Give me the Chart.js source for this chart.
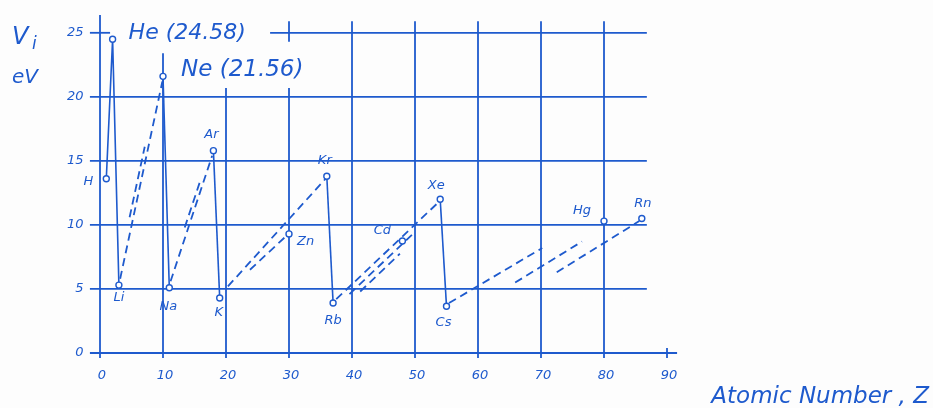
<!DOCTYPE html>
<html>
<head>
<meta charset="utf-8">
<script src="https://cdn.jsdelivr.net/npm/chart.js@4/dist/chart.umd.min.js"></script>
<style>
html,body{margin:0;padding:0;background:#fdfdfd;}
#wrap{width:933px;height:408px;}
</style>
</head>
<body>
<div id="wrap"><canvas id="c" width="933" height="408"></canvas></div>
<script>
// ---- data ----
const elements = ['H','He','Li','Ne','Na','Ar','K','Zn','Kr','Rb','Cd','Xe','Cs','Hg','Rn'];
const atomicNumbers = [1,2,3,10,11,18,19,30,36,37,48,54,55,80,86];
const ionizationEV = [13.6,24.5,5.3,21.6,5.1,15.8,4.3,9.3,13.8,3.9,8.75,12.0,3.65,10.3,10.5];
// solid connections: groups of element symbols joined by a solid line
const solidGroups = [['H','He','Li'],['Ne','Na'],['Ar','K'],['Kr','Rb'],['Xe','Cs']];
// dashed trend segments (Z, eV)
const dashStartZ = [3.2, 4.7, 11.2, 13.45, 20.3, 23.8, 37.5, 39.6, 41.3, 55.4, 65.9, 72.5];
const dashStartV = [5.8, 10.6, 5.6, 9.8, 5.2, 6.5, 4.2, 4.6, 4.8, 3.9, 5.5, 6.3];
const dashEndZ   = [9.9, 7.1, 17.8, 15.95, 35.8, 29.7, 53.8, 50.0, 47.6, 70.2, 76.5, 85.6];
const dashEndV   = [21.2, 16.1, 15.4, 13.5, 13.6, 9.2, 11.8, 9.45, 7.75, 8.2, 8.7, 10.3];
// annotations
const annotationTexts = ['He (24.58)', 'Ne (21.56)'];
// tick labels
const xTickValues = [0,10,20,30,40,50,60,70,80,90];
const yTickValues = [0,5,10,15,20,25];
const yAxisTitle = ['V', 'i', 'eV'];
const xAxisTitle = 'Atomic Number , Z';

// ---- style ----
const BLUE = 'rgb(30,90,205)';
const FONT = '"DejaVu Sans", sans-serif';
const labelOffsets = { // pixel offsets from the point
  H:[-18,3], He:[0,0], Li:[0,13], Ne:[0,0], Na:[-1,19], Ar:[-2,-16], K:[-1,15],
  Zn:[8,8], Kr:[-2,-16], Rb:[0,18], Cd:[-20,-10], Xe:[-4,-14], Cs:[-3,16], Hg:[-22,-10], Rn:[1,-15]
};
const labelAlign = {Zn:'left'};

const idx = s => elements.indexOf(s);
const datasets = [];
solidGroups.forEach(g => {
  datasets.push({
    data: g.map(s => ({x: atomicNumbers[idx(s)], y: ionizationEV[idx(s)]})),
    showLine: true, borderColor: BLUE, borderWidth: 1.6, pointRadius: 0, fill: false, order: 2
  });
});
dashStartZ.forEach((z, i) => {
  datasets.push({
    data: [{x: z, y: dashStartV[i]}, {x: dashEndZ[i], y: dashEndV[i]}],
    showLine: true, borderColor: BLUE, borderWidth: 1.8, borderDash: [8,5], pointRadius: 0, fill: false, order: 3
  });
});
datasets.push({
  data: atomicNumbers.map((z, i) => ({x: z, y: ionizationEV[i]})),
  showLine: false, pointRadius: 3, pointBackgroundColor: '#ffffff', pointBorderColor: BLUE,
  pointBorderWidth: 1.4, order: 1
});

const gridPlugin = {
  id: 'grid',
  beforeDatasetsDraw(chart) {
    const ctx = chart.ctx, xs = chart.scales.x, ys = chart.scales.y;
    const X = v => xs.getPixelForValue(v), Y = v => ys.getPixelForValue(v);
    ctx.save();
    ctx.strokeStyle = BLUE; ctx.lineWidth = 1.8;
    const seg = (x1, y1, x2, y2) => { ctx.beginPath(); ctx.moveTo(x1, y1); ctx.lineTo(x2, y2); ctx.stroke(); };
    // horizontal grid lines
    yTickValues.forEach(v => {
      if (v === 0) { seg(X(-1.6), Y(0), X(91.6), Y(0)); return; }
      if (v === 25) { seg(X(-1.6), Y(v), X(1.6), Y(v)); seg(X(27), Y(v), X(86.8), Y(v)); return; }
      seg(X(-1.6), Y(v), X(86.8), Y(v));
    });
    // vertical grid lines
    xTickValues.forEach(z => {
      const bottom = Y(0) + 5;
      if (z === 90) { seg(X(z), Y(0) - 5, X(z), bottom); return; }
      if (z === 0) { seg(X(z), Y(26.4), X(z), bottom); return; }
      if (z === 10) { seg(X(z), Y(23.4), X(z), bottom); return; }
      if (z === 20) { seg(X(z), Y(20.7), X(z), bottom); return; }
      if (z === 30) { seg(X(z), Y(25.9), X(z), Y(24.3)); seg(X(z), Y(20.7), X(z), bottom); return; }
      seg(X(z), Y(25.9), X(z), bottom);
    });
    ctx.restore();
  },
  afterDraw(chart) {
    const ctx = chart.ctx, xs = chart.scales.x, ys = chart.scales.y;
    const X = v => xs.getPixelForValue(v), Y = v => ys.getPixelForValue(v);
    ctx.save();
    ctx.fillStyle = BLUE;
    ctx.textBaseline = 'middle';
    // tick labels
    ctx.font = 'italic 13px ' + FONT;
    ctx.textAlign = 'center';
    xTickValues.forEach(z => ctx.fillText(String(z), X(z) + 2, Y(0) + 23));
    ctx.textAlign = 'right';
    yTickValues.forEach(v => ctx.fillText(String(v), X(-2.6), Y(v)));
    // element labels
    ctx.font = 'italic 13px ' + FONT;
    elements.forEach((s, i) => {
      if (s === 'He' || s === 'Ne') return;
      const o = labelOffsets[s];
      ctx.textAlign = labelAlign[s] || 'center';
      ctx.fillText(s, X(atomicNumbers[i]) + o[0], Y(ionizationEV[i]) + o[1]);
    });
    // annotations for He and Ne
    ctx.textAlign = 'left';
    ctx.font = 'italic 22px ' + FONT;
    ctx.fillText(annotationTexts[0], X(atomicNumbers[idx('He')]) + 16, Y(25));
    ctx.font = 'italic 23px ' + FONT;
    ctx.fillText(annotationTexts[1], X(atomicNumbers[idx('Ne')]) + 18, Y(ionizationEV[idx('Ne')]) - 6);
    // axis titles
    ctx.font = 'italic 24px ' + FONT;
    ctx.fillText(yAxisTitle[0], 12, 38);
    ctx.font = 'italic 17px ' + FONT;
    ctx.fillText(yAxisTitle[1], 32, 45);
    ctx.font = 'italic 20px ' + FONT;
    ctx.fillText(yAxisTitle[2], 12, 78);
    ctx.font = 'italic 23px ' + FONT;
    ctx.textAlign = 'right';
    ctx.fillText(xAxisTitle, 929, 397);
    ctx.restore();
  }
};

new Chart(document.getElementById('c'), {
  type: 'scatter',
  data: { datasets },
  options: {
    responsive: false, animation: false, devicePixelRatio: 1,
    layout: { padding: { left: 100, right: 266, top: 20, bottom: 55 } },
    plugins: { legend: { display: false }, tooltip: { enabled: false } },
    clip: false,
    scales: {
      x: { type: 'linear', min: 0, max: 90, display: false },
      y: { type: 'linear', min: 0, max: 26, display: false }
    }
  },
  plugins: [gridPlugin]
});
</script>
</body>
</html>
